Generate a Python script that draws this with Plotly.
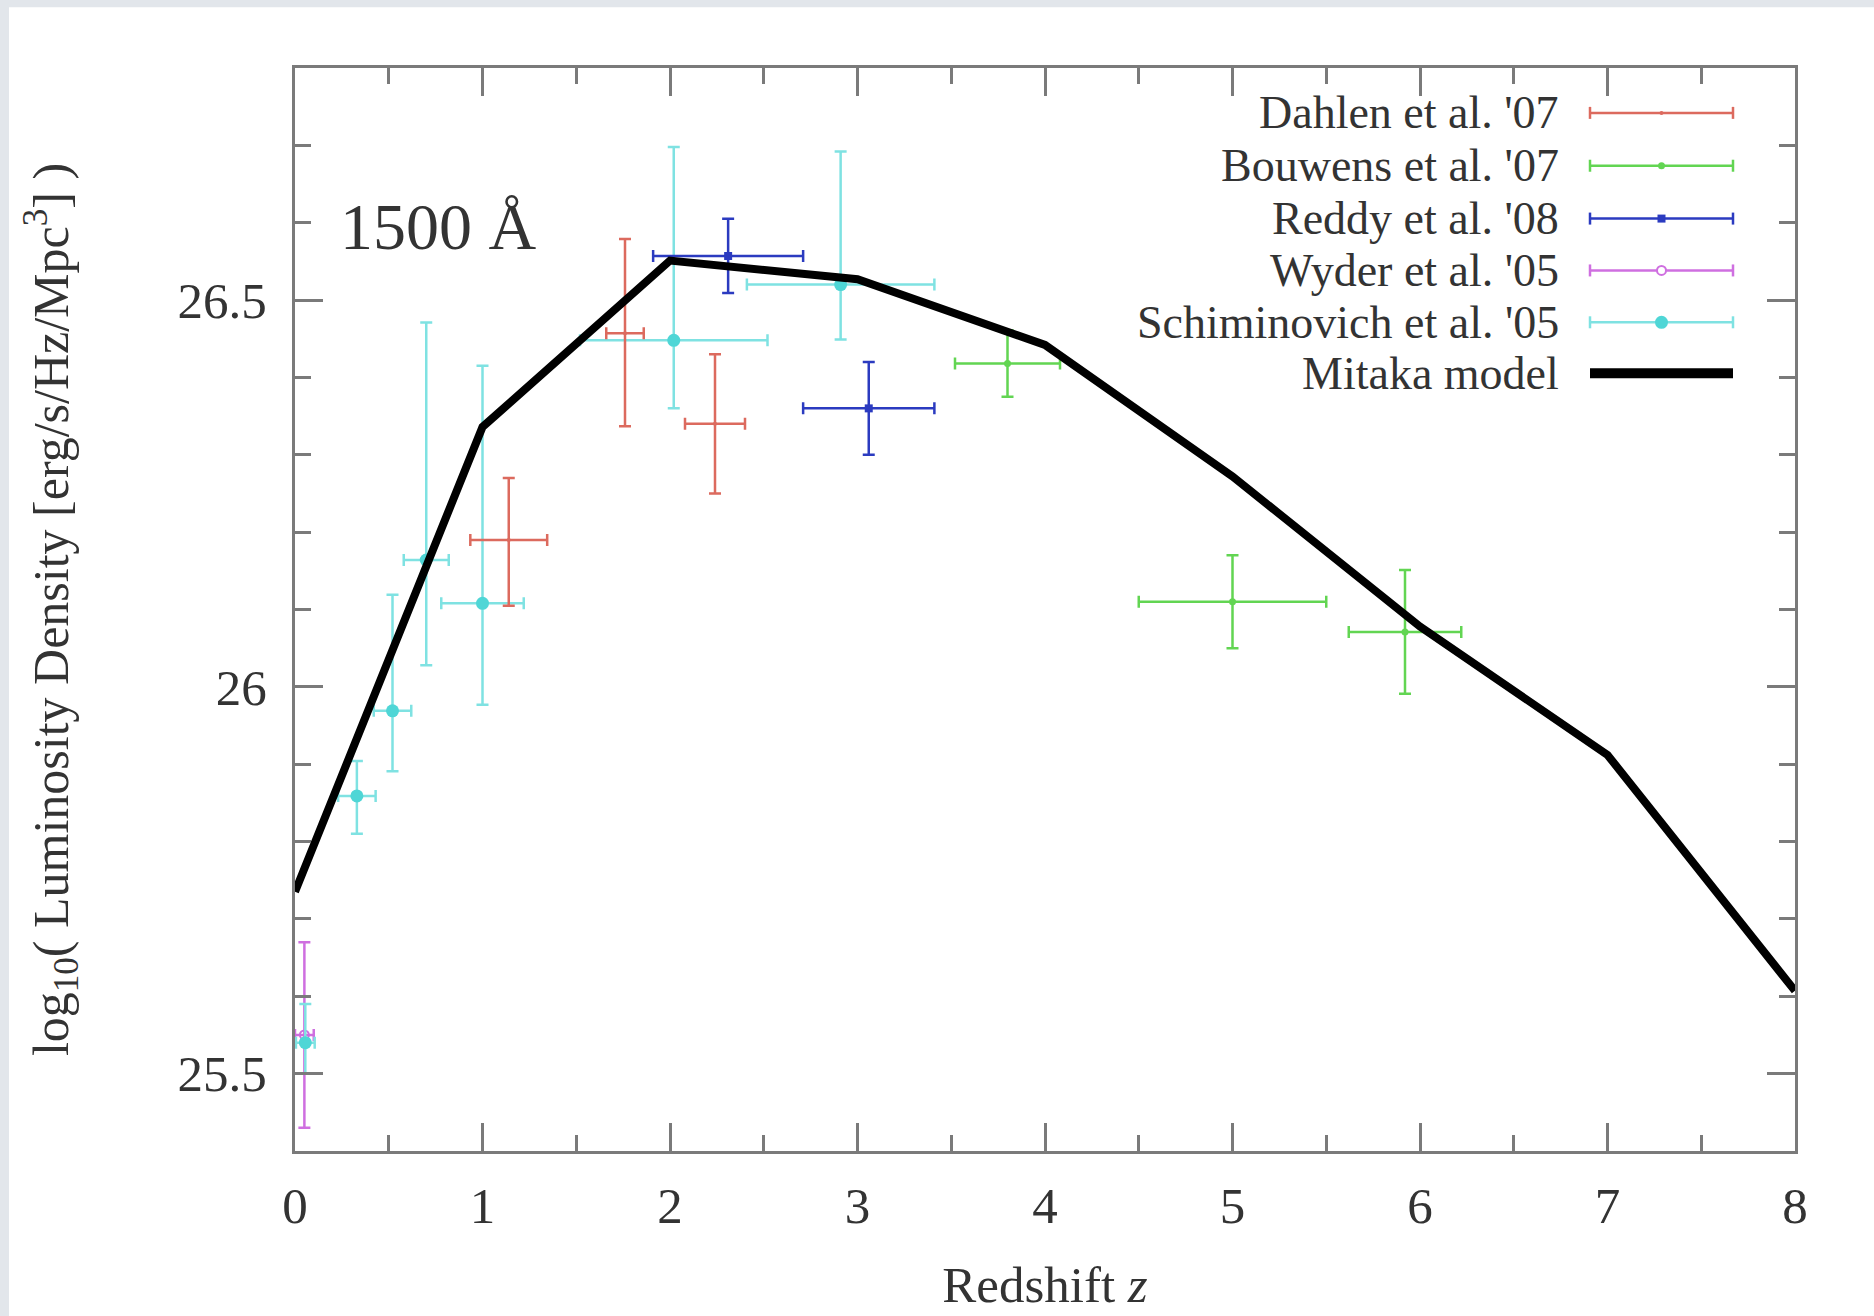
import plotly.graph_objects as go

# ---------------- data ----------------
dahlen_z = [1.14, 1.76, 2.24]
dahlen_v = [26.19, 26.457, 26.34]
dahlen_zerr = [0.205, 0.10, 0.16]
dahlen_vplus = [0.08, 0.122, 0.09]
dahlen_vminus = [0.085, 0.12, 0.09]

bouwens_z = [3.80, 5.00, 5.92]
bouwens_v = [26.418, 26.11, 26.071]
bouwens_zerr = [0.28, 0.50, 0.30]
bouwens_verr = [0.043, 0.06, 0.08]

reddy_z = [2.31, 3.06]
reddy_v = [26.557, 26.36]
reddy_zerr = [0.40, 0.35]
reddy_verr = [0.048, 0.06]

wyder_z = [0.05]
wyder_v = [25.55]
wyder_zerr = [0.05]
wyder_verr = [0.12]

schim_z = [0.055, 0.33, 0.52, 0.70, 1.00, 2.02, 2.91]
schim_v = [25.54, 25.859, 25.969, 26.164, 26.108, 26.448, 26.52]
schim_zerr = [0.05, 0.10, 0.10, 0.12, 0.22, 0.50, 0.50]
schim_vplus = [0.05, 0.045, 0.15, 0.307, 0.307, 0.25, 0.172]
schim_vminus = [0.04, 0.049, 0.078, 0.136, 0.131, 0.088, 0.071]

model_z = [0, 1, 2, 3, 4, 5, 6, 7, 8]
model_v = [25.735, 26.336, 26.551, 26.527, 26.442, 26.272, 26.078, 25.912, 25.607]

legend_names = ["Dahlen et al. '07", "Bouwens et al. '07", "Reddy et al. '08",
                "Wyder et al. '05", "Schiminovich et al. '05", "Mitaka model"]

# ---------------- style ----------------
C_DAHLEN = "#dc6a5e"
C_BOUWENS = "#62d552"
C_REDDY = "#2b3bc0"
C_WYDER = "#cf6fe0"
C_SCHIM = "#4fd6d6"
C_SCHIM_ERR = "#7fe2e2"
FONT = "Liberation Serif, Times New Roman, serif"
TXT = "#333333"
AX = "#7a7a7a"

fig = go.Figure()


def err_trace(z, v, zerr, vplus, vminus, color, ecolor, symbol, size, mcolor=None, open_=False):
    return go.Scatter(
        x=z, y=v, mode="markers", showlegend=False,
        marker=dict(symbol=symbol, size=size, color=(mcolor or color),
                    line=dict(width=2 if open_ else 0, color=color)),
        error_x=dict(type="data", array=zerr, symmetric=True, color=ecolor, thickness=2.5, width=6),
        error_y=dict(type="data", array=vplus, arrayminus=vminus, symmetric=False,
                     color=ecolor, thickness=2.5, width=6),
    )


fig.add_trace(err_trace(wyder_z, wyder_v, wyder_zerr, wyder_verr, wyder_verr,
                        C_WYDER, C_WYDER, "circle-open", 9, open_=True))
fig.add_trace(err_trace(schim_z, schim_v, schim_zerr, schim_vplus, schim_vminus,
                        C_SCHIM, C_SCHIM_ERR, "circle", 13))
fig.add_trace(err_trace(dahlen_z, dahlen_v, dahlen_zerr, dahlen_vplus, dahlen_vminus,
                        C_DAHLEN, C_DAHLEN, "circle", 4))
fig.add_trace(err_trace(bouwens_z, bouwens_v, bouwens_zerr, bouwens_verr, bouwens_verr,
                        C_BOUWENS, C_BOUWENS, "circle", 7))
fig.add_trace(err_trace(reddy_z, reddy_v, reddy_zerr, reddy_verr, reddy_verr,
                        C_REDDY, C_REDDY, "square", 8))
fig.add_trace(go.Scatter(x=model_z, y=model_v, mode="lines", showlegend=False,
                         line=dict(color="black", width=8)))

# ---------------- layout geometry ----------------
W, H = 1874, 1316
L, R, T, B = 295, 79, 68, 162
PW, PH = W - L - R, H - T - B


def px_x(px):
    return (px - L) / PW


def px_y(py):
    return 1 - (py - T) / PH


shapes = []
# light grey frame strips (top and left)
shapes.append(dict(type="rect", xref="paper", yref="paper", x0=px_x(-5), x1=px_x(W + 5),
                   y0=px_y(7), y1=px_y(-5), fillcolor="#e2e6eb", line=dict(width=0), layer="below"))
shapes.append(dict(type="rect", xref="paper", yref="paper", x0=px_x(-5), x1=px_x(9),
                   y0=px_y(H + 5), y1=px_y(-5), fillcolor="#e2e6eb", line=dict(width=0), layer="below"))

# ---------------- custom legend (text left, sample right) ----------------
legend_colors = [C_DAHLEN, C_BOUWENS, C_REDDY, C_WYDER, C_SCHIM, "black"]
row_y = [113, 166, 219, 271, 323, 374]
text_right = 1560
samp_x0, samp_x1 = 1590, 1733
samp_c = (samp_x0 + samp_x1) / 2
annotations = []
for i, name in enumerate(legend_names):
    yp = px_y(row_y[i])
    col = legend_colors[i]
    annotations.append(dict(x=px_x(text_right), y=yp, xref="paper", yref="paper",
                            text=name, showarrow=False, xanchor="right", yanchor="middle",
                            borderpad=0,
                            font=dict(family=FONT, size=46, color=TXT)))
    if i == 5:
        shapes.append(dict(type="line", xref="paper", yref="paper", x0=px_x(samp_x0),
                           x1=px_x(samp_x1), y0=yp, y1=yp, line=dict(color=col, width=10)))
        continue
    lc = C_SCHIM_ERR if i == 4 else col
    shapes.append(dict(type="line", xref="paper", yref="paper", x0=px_x(samp_x0),
                       x1=px_x(samp_x1), y0=yp, y1=yp, line=dict(color=lc, width=2.5)))
    for xx in (samp_x0, samp_x1):
        shapes.append(dict(type="line", xref="paper", yref="paper", x0=px_x(xx), x1=px_x(xx),
                           ysizemode="pixel", yanchor=yp, y0=-6, y1=6,
                           line=dict(color=lc, width=2.5)))
    r = {0: 2, 1: 3.5, 2: 4, 3: 4.5, 4: 6.5}[i]
    stype = "rect" if i == 2 else "circle"
    fill = "white" if i == 3 else col
    shapes.append(dict(type=stype, xref="paper", yref="paper",
                       xsizemode="pixel", ysizemode="pixel",
                       xanchor=px_x(samp_c), yanchor=yp, x0=-r, x1=r, y0=-r, y1=r,
                       fillcolor=fill, line=dict(color=col, width=2 if i == 3 else 0)))

annotations.append(dict(x=px_x(338), y=px_y(227), xref="paper", yref="paper",
                        text="1500 Å", showarrow=False, xanchor="left", yanchor="middle",
                        font=dict(family=FONT, size=66, color=TXT)))

axis_common = dict(showline=True, linecolor=AX, linewidth=3, mirror="ticks",
                   ticks="inside", tickcolor=AX, tickwidth=3, ticklen=28,
                   showgrid=False, zeroline=False,
                   tickfont=dict(family=FONT, size=51, color=TXT))

fig.update_layout(
    width=W, height=H,
    margin=dict(l=L, r=R, t=T, b=B),
    paper_bgcolor="white", plot_bgcolor="white",
    showlegend=False,
    shapes=shapes, annotations=annotations,
    xaxis=dict(range=[0, 8], tick0=0, dtick=1,
               minor=dict(dtick=0.5, ticks="inside", ticklen=16, tickcolor=AX, tickwidth=3),
               ticklabelstandoff=8,
               title=dict(text="Redshift <i>z</i>", standoff=34,
                          font=dict(family=FONT, size=51, color=TXT)),
               **axis_common),
    yaxis=dict(range=[25.4, 26.8], tick0=25.5, dtick=0.5,
               minor=dict(dtick=0.1, ticks="inside", ticklen=16, tickcolor=AX, tickwidth=3),
               ticklabelstandoff=15,
               title=dict(text="log<sub>10</sub>( Luminosity Density [erg/s/Hz/Mpc<sup>3</sup>] )",
                          standoff=94, font=dict(family=FONT, size=50, color=TXT)),
               **axis_common),
)

fig.write_html("out.html")
